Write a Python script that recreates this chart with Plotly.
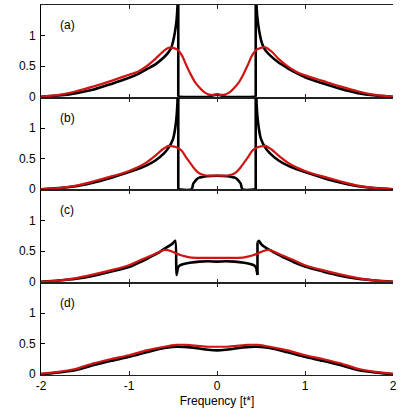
import plotly.graph_objects as go

# ---------------- data ----------------
# Panel (a)
a_black_x = [-2.0, -1.8, -1.6, -1.4, -1.2, -1.0, -0.9, -0.8, -0.7, -0.6, -0.55, -0.52, -0.5, -0.48, -0.46, -0.45, -0.445, -0.44,
             -0.44, -0.1, -0.05, 0.0, 0.05, 0.1, 0.44,
             0.44, 0.445, 0.45, 0.46, 0.48, 0.5, 0.52, 0.55, 0.6, 0.7, 0.8, 0.9, 1.0, 1.2, 1.4, 1.6, 1.8, 2.0]
a_black_y = [0.0, 0.02, 0.06, 0.12, 0.21, 0.31, 0.37, 0.45, 0.53, 0.65, 0.73, 0.80, 0.90, 1.04, 1.25, 1.45, 1.8, 4.0,
             0.0, 0.0, 0.02, 0.035, 0.02, 0.0, 0.0,
             4.0, 1.8, 1.48, 1.28, 1.07, 0.93, 0.84, 0.76, 0.68, 0.56, 0.47, 0.39, 0.32, 0.22, 0.13, 0.06, 0.02, 0.0]
a_red_x = [-2.0, -1.8, -1.6, -1.4, -1.2, -1.0, -0.9, -0.8, -0.7, -0.62, -0.55, -0.5, -0.45, -0.4, -0.35, -0.3, -0.25, -0.2, -0.15, -0.1, -0.05, 0.0,
           0.05, 0.1, 0.15, 0.2, 0.25, 0.3, 0.35, 0.4, 0.45, 0.5, 0.55, 0.62, 0.7, 0.8, 0.9, 1.0, 1.2, 1.4, 1.6, 1.8, 2.0]
a_red_y = [0.0, 0.03, 0.09, 0.17, 0.26, 0.36, 0.41, 0.50, 0.62, 0.73, 0.80, 0.80, 0.77, 0.68, 0.52, 0.37, 0.24, 0.15, 0.08, 0.04, 0.03, 0.04,
           0.03, 0.04, 0.08, 0.15, 0.24, 0.37, 0.52, 0.68, 0.77, 0.80, 0.81, 0.74, 0.62, 0.50, 0.41, 0.35, 0.26, 0.17, 0.09, 0.03, 0.0]

# Panel (b)
b_black_x = [-2.0, -1.8, -1.6, -1.4, -1.2, -1.0, -0.9, -0.8, -0.7, -0.6, -0.55, -0.5, -0.47, -0.45, -0.44,
             -0.44, -0.29, -0.27, -0.25, -0.23, -0.2, -0.17, -0.12, 0.0, 0.12, 0.17, 0.2, 0.23, 0.25, 0.27, 0.29, 0.44,
             0.44, 0.45, 0.47, 0.5, 0.55, 0.6, 0.7, 0.8, 0.9, 1.0, 1.2, 1.4, 1.6, 1.8, 2.0]
b_black_y = [0.0, 0.02, 0.05, 0.11, 0.19, 0.28, 0.33, 0.39, 0.47, 0.59, 0.68, 0.82, 1.05, 1.4, 4.0,
             0.0, 0.0, 0.09, 0.13, 0.165, 0.19, 0.20, 0.213, 0.22, 0.213, 0.20, 0.19, 0.165, 0.13, 0.09, 0.0, 0.0,
             4.0, 1.4, 1.05, 0.82, 0.68, 0.59, 0.47, 0.39, 0.33, 0.28, 0.19, 0.11, 0.05, 0.02, 0.0]
b_red_x = [-2.0, -1.8, -1.6, -1.4, -1.2, -1.0, -0.9, -0.8, -0.7, -0.62, -0.55, -0.5, -0.45, -0.4, -0.35, -0.3, -0.27, -0.22, -0.17, -0.12, 0.0,
           0.12, 0.17, 0.22, 0.27, 0.3, 0.35, 0.4, 0.45, 0.5, 0.55, 0.62, 0.7, 0.8, 0.9, 1.0, 1.2, 1.4, 1.6, 1.8, 2.0]
b_red_y = [0.0, 0.02, 0.06, 0.13, 0.21, 0.30, 0.36, 0.44, 0.55, 0.65, 0.71, 0.70, 0.68, 0.63, 0.52, 0.42, 0.36, 0.28, 0.24, 0.225, 0.225,
           0.225, 0.24, 0.28, 0.36, 0.42, 0.52, 0.63, 0.68, 0.70, 0.71, 0.65, 0.55, 0.44, 0.36, 0.30, 0.21, 0.13, 0.06, 0.02, 0.0]

# Panel (c)
c_black_x = [-2.0, -1.8, -1.6, -1.4, -1.2, -1.0, -0.875, -0.8, -0.7, -0.65, -0.6, -0.53, -0.5, -0.475,
             -0.46, -0.445, -0.43, -0.38, -0.31, -0.2, -0.1, 0.0, 0.1, 0.2, 0.31, 0.38, 0.43, 0.445, 0.46,
             0.46, 0.475, 0.5, 0.53, 0.6, 0.65, 0.7, 0.8, 0.875, 1.0, 1.2, 1.4, 1.6, 1.8, 2.0]
c_black_y = [0.0, 0.02, 0.05, 0.10, 0.17, 0.24, 0.32, 0.37, 0.45, 0.49, 0.54, 0.60, 0.63, 0.67,
             0.11, 0.22, 0.26, 0.29, 0.31, 0.33, 0.335, 0.33, 0.335, 0.33, 0.31, 0.29, 0.26, 0.22, 0.11,
             0.64, 0.67, 0.62, 0.58, 0.52, 0.48, 0.44, 0.37, 0.32, 0.25, 0.17, 0.10, 0.05, 0.02, 0.0]
c_red_x = [-2.0, -1.8, -1.6, -1.4, -1.2, -1.0, -0.875, -0.76, -0.65, -0.59, -0.52, -0.46, -0.4, -0.31, -0.2, 0.0,
           0.2, 0.31, 0.4, 0.46, 0.52, 0.59, 0.65, 0.76, 0.875, 1.0, 1.2, 1.4, 1.6, 1.8, 2.0]
c_red_y = [0.0, 0.02, 0.06, 0.12, 0.19, 0.27, 0.35, 0.42, 0.49, 0.52, 0.50, 0.46, 0.43, 0.40, 0.39, 0.39,
           0.39, 0.40, 0.43, 0.46, 0.50, 0.52, 0.49, 0.42, 0.35, 0.27, 0.19, 0.12, 0.06, 0.02, 0.0]

# Panel (d)
d_black_x = [-2.0, -1.8, -1.6, -1.4, -1.2, -1.0, -0.8, -0.6, -0.46, -0.3, -0.2, -0.1, 0.0,
             0.1, 0.2, 0.3, 0.46, 0.6, 0.8, 1.0, 1.2, 1.4, 1.6, 1.8, 2.0]
d_black_y = [0.0, 0.03, 0.07, 0.15, 0.22, 0.285, 0.36, 0.43, 0.45, 0.44, 0.42, 0.40, 0.39,
             0.40, 0.42, 0.44, 0.45, 0.43, 0.36, 0.285, 0.22, 0.15, 0.07, 0.03, 0.0]
d_red_x = [-2.0, -1.8, -1.6, -1.4, -1.2, -1.0, -0.8, -0.6, -0.46, -0.35, -0.2, -0.1, 0.0,
           0.1, 0.2, 0.35, 0.46, 0.6, 0.8, 1.0, 1.2, 1.4, 1.6, 1.8, 2.0]
d_red_y = [0.01, 0.04, 0.09, 0.18, 0.25, 0.31, 0.39, 0.45, 0.48, 0.48, 0.46, 0.45, 0.45,
           0.45, 0.46, 0.48, 0.48, 0.45, 0.39, 0.31, 0.25, 0.18, 0.09, 0.04, 0.01]

panel_labels = ["(a)", "(b)", "(c)", "(d)"]
x_ticks = [-2, -1, 0, 1, 2]
x_ticktext = ["-2", "-1", "0", "1", "2"]
y_ticks = [0, 0.5, 1]
y_ticktext = ["0", "0.5", "1"]
x_title = "Frequency [t*]"

panels = [
    (a_black_x, a_black_y, a_red_x, a_red_y),
    (b_black_x, b_black_y, b_red_x, b_red_y),
    (c_black_x, c_black_y, c_red_x, c_red_y),
    (d_black_x, d_black_y, d_red_x, d_red_y),
]

# ---------------- figure ----------------
BLACK = "#000000"
RED = "#d01414"
FONT = "Liberation Sans, Arial, Helvetica, sans-serif"


def split_at_jumps(xs, ys):
    """Split a curve wherever two consecutive points share the same x (vertical jump)."""
    smooth, jumps = [], []
    cur_x, cur_y = [xs[0]], [ys[0]]
    for j in range(1, len(xs)):
        if xs[j] == xs[j - 1]:
            smooth.append((cur_x, cur_y))
            jumps.append(([xs[j - 1], xs[j]], [ys[j - 1], ys[j]]))
            cur_x, cur_y = [xs[j]], [ys[j]]
        else:
            cur_x.append(xs[j])
            cur_y.append(ys[j])
    smooth.append((cur_x, cur_y))
    return smooth, jumps


def add_curve(fig, xs, ys, color, width, xa, ya):
    smooth, jumps = split_at_jumps(xs, ys)
    for sx, sy in smooth:
        fig.add_trace(go.Scatter(x=sx, y=sy, mode="lines", xaxis=xa, yaxis=ya,
                                 line=dict(color=color, width=width, shape="spline", smoothing=0.8),
                                 hoverinfo="skip"))
    for jx, jy in jumps:
        fig.add_trace(go.Scatter(x=jx, y=jy, mode="lines", xaxis=xa, yaxis=ya,
                                 line=dict(color=color, width=width), hoverinfo="skip"))


fig = go.Figure()
layout = dict(
    width=415, height=415,
    margin=dict(l=41, r=22, t=5, b=40),
    paper_bgcolor="white", plot_bgcolor="white",
    showlegend=False,
    font=dict(family=FONT, size=12, color="black"),
)

n = len(panels)
for i, (bx, by, rx, ry) in enumerate(panels):
    k = i + 1
    xa = "x" if k == 1 else f"x{k}"
    ya = "y" if k == 1 else f"y{k}"
    add_curve(fig, bx, by, BLACK, 2.6, xa, ya)
    add_curve(fig, rx, ry, RED, 2.2, xa, ya)
    top = 1 - i / n
    bot = 1 - (i + 1) / n
    xkey = "xaxis" if k == 1 else f"xaxis{k}"
    ykey = "yaxis" if k == 1 else f"yaxis{k}"
    layout[xkey] = dict(
        domain=[0, 1], anchor=ya, range=[-2, 2], automargin=(k == n),
        tickvals=x_ticks, ticktext=x_ticktext,
        ticks="inside", ticklen=4, tickwidth=1, tickcolor="#222",
        showline=True, linecolor="#222", linewidth=1, mirror="ticks",
        showgrid=False, zeroline=False,
        showticklabels=(k == n),
        tickfont=dict(size=12, family=FONT),
        title=dict(text=x_title, font=dict(size=12, family=FONT), standoff=4) if k == n else None,
        matches=None if k == 1 else "x",
    )
    layout[ykey] = dict(
        domain=[bot, top], anchor=xa, range=[-0.012, 1.5], automargin=False,
        tickvals=y_ticks, ticktext=y_ticktext,
        ticks="inside", ticklen=4, tickwidth=1, tickcolor="#000",
        showline=True, linecolor="#000", linewidth=1,
        showgrid=False, zeroline=False,
        tickfont=dict(size=12, family=FONT),
        ticklabelstandoff=2,
    )
    rk = n + k
    layout[f"yaxis{rk}"] = dict(
        domain=[bot, top], anchor=xa, overlaying=ya, side="right", automargin=False,
        range=[-0.012, 1.5], tickvals=y_ticks,
        ticks="inside", ticklen=4, tickwidth=1, tickcolor="#8a8a8a",
        showline=True, linecolor="#8a8a8a", linewidth=1,
        showgrid=False, zeroline=False, showticklabels=False,
    )
    fig.add_annotation(text=panel_labels[i], xref=f"{xa} domain", yref=f"{ya} domain",
                       x=0.074, y=0.78, showarrow=False, xanchor="center", yanchor="middle",
                       font=dict(size=12, family=FONT, color="black"))

fig.update_layout(**layout)
fig.write_html("out.html", config={"displayModeBar": False},
               post_script="document.body.style.margin='0';document.body.style.padding='0';")
